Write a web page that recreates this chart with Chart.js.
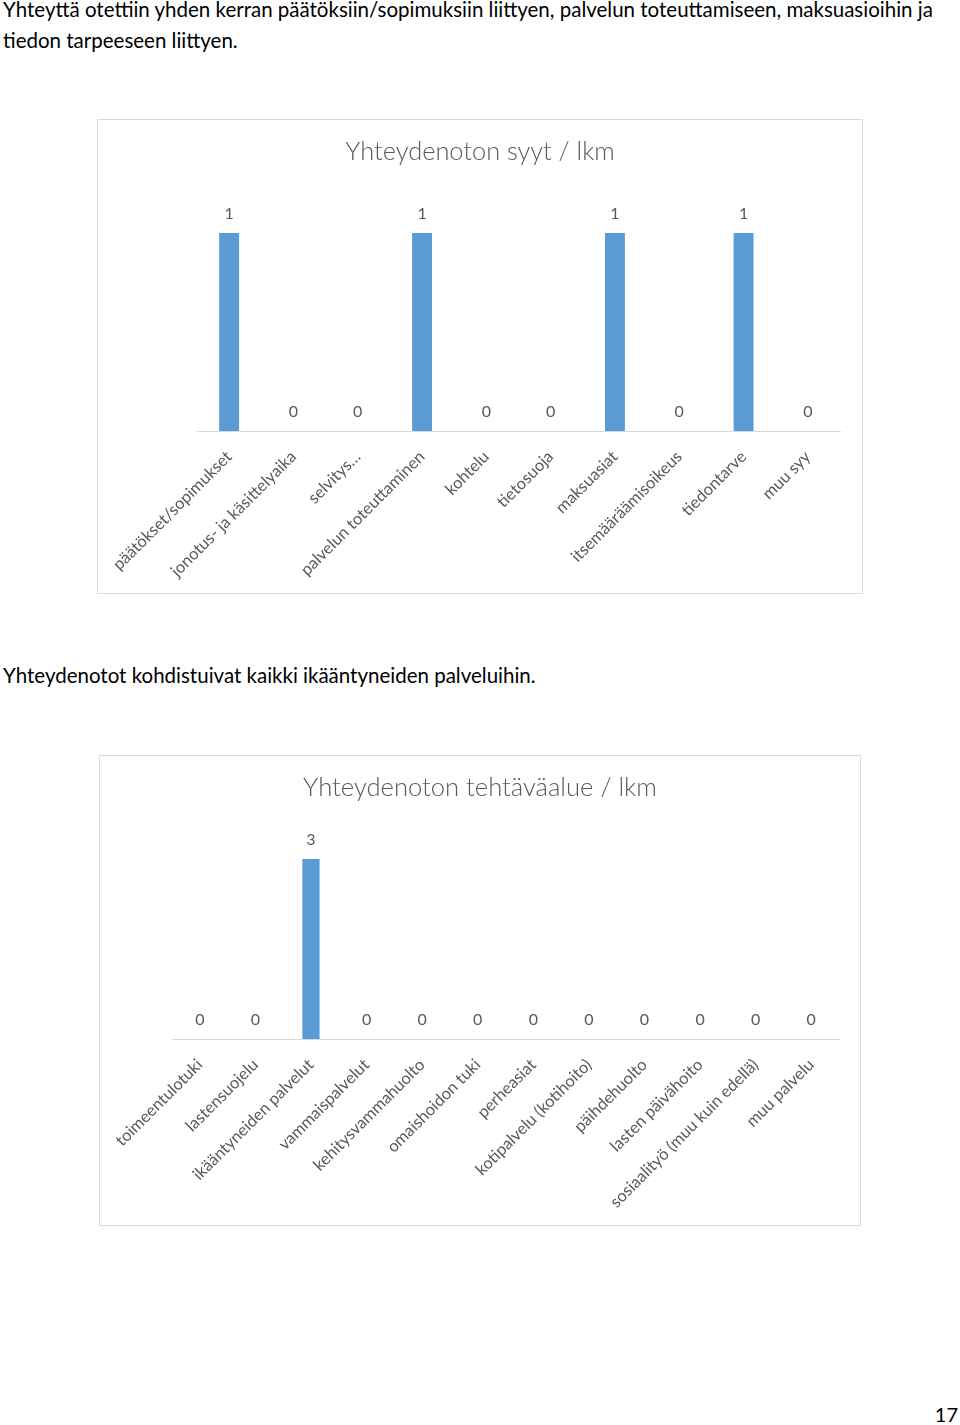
<!DOCTYPE html>
<html>
<head>
<meta charset="utf-8">
<script src="https://cdn.jsdelivr.net/npm/chart.js@4"></script>
<style>
  html,body{margin:0;padding:0;background:#fff;}
  body{width:960px;height:1425px;position:relative;font-family:Lato,"Open Sans",sans-serif;color:#000;}
  .p{position:absolute;left:3px;font-size:20.5px;line-height:31px;white-space:nowrap;}
  .box{position:absolute;border:1px solid #d9d9d9;}
  .box canvas{display:block;}
  .pg{position:absolute;right:2px;top:1402px;font-size:20px;}
</style>
</head>
<body>
<div class="p" style="top:-6px;">Yhteyttä otettiin yhden kerran päätöksiin/sopimuksiin liittyen, palvelun toteuttamiseen, maksuasioihin ja<br>tiedon tarpeeseen liittyen.</div>
<div class="box" style="left:97px;top:119px;width:764px;height:473px;"><canvas id="c1"></canvas></div>
<div class="p" style="top:660px;">Yhteydenotot kohdistuivat kaikki ikääntyneiden palveluihin.</div>
<div class="box" style="left:99px;top:755px;width:760px;height:469px;"><canvas id="c2"></canvas></div>
<div class="pg">17</div>
<script>
const reasonCategories = ["päätökset/sopimukset","jonotus- ja käsittelyaika","selvitys…","palvelun toteuttaminen","kohtelu","tietosuoja","maksuasiat","itsemääräämisoikeus","tiedontarve","muu syy"];
const reasonValues = [1,0,0,1,0,0,1,0,1,0];
const areaCategories = ["toimeentulotuki","lastensuojelu","ikääntyneiden palvelut","vammaispalvelut","kehitysvammahuolto","omaishoidon tuki","perheasiat","kotipalvelu (kotihoito)","päihdehuolto","lasten päivähoito","sosiaalityö (muu kuin edellä)","muu palvelu"];
const areaValues = [0,0,3,0,0,0,0,0,0,0,0,0];

const FONT = 'Lato, "Open Sans", sans-serif';

const valueLabels = {
  id:'valueLabels',
  afterDatasetsDraw(chart){
    const ctx = chart.ctx;
    chart.data.datasets.forEach((ds,i)=>{
      chart.getDatasetMeta(i).data.forEach((bar,j)=>{
        ctx.save();
        ctx.font = '16px ' + FONT;
        ctx.fillStyle = '#595959';
        ctx.textAlign = 'center';
        ctx.textBaseline = 'middle';
        ctx.fillText(String(ds.data[j]), bar.x, bar.y - 19);
        ctx.restore();
      });
    });
  }
};

const centeredTitle = {
  id:'centeredTitle',
  afterDraw(chart, args, o){
    const ctx = chart.ctx;
    ctx.save();
    ctx.font = '300 ' + o.size + 'px ' + FONT;
    ctx.fillStyle = '#595959';
    ctx.textAlign = 'center';
    ctx.textBaseline = 'middle';
    ctx.fillText(o.text, chart.width / 2, o.y);
    ctx.restore();
  }
};

function makeChart(id, labels, values, opts){
  Chart.defaults.font.family = FONT;
  return new Chart(document.getElementById(id), {
    type:'bar',
    data:{labels:labels, datasets:[{data:values, backgroundColor:'#5b9bd5', borderWidth:0, barPercentage:0.31, categoryPercentage:1}]},
    options:{
      responsive:true, maintainAspectRatio:false, animation:false,
      layout:{padding:{left:opts.left, right:opts.right, top:opts.top, bottom:0}},
      plugins:{
        legend:{display:false}, tooltip:{enabled:false}, title:{display:false},
        centeredTitle:{text:opts.title, size:opts.titleSize, y:32}
      },
      scales:{
        x:{
          grid:{display:false},
          border:{display:true, color:'#d9d9d9', width:1},
          ticks:{color:'#595959', font:{size:16.5}, minRotation:45, maxRotation:45, padding:8, autoSkip:false},
          afterFit:(s)=>{ s.height = opts.axisH; }
        },
        y:{display:false, min:0, max:opts.max}
      }
    },
    plugins:[valueLabels, centeredTitle]
  });
}

makeChart('c1', reasonCategories, reasonValues, {title:'Yhteydenoton syyt / lkm', titleSize:25.4, left:99, right:22, top:113, axisH:162, max:1});
makeChart('c2', areaCategories, areaValues, {title:'Yhteydenoton tehtäväalue / lkm', titleSize:25.6, left:72, right:21, top:103, axisH:186, max:3});
</script>
</body>
</html>
